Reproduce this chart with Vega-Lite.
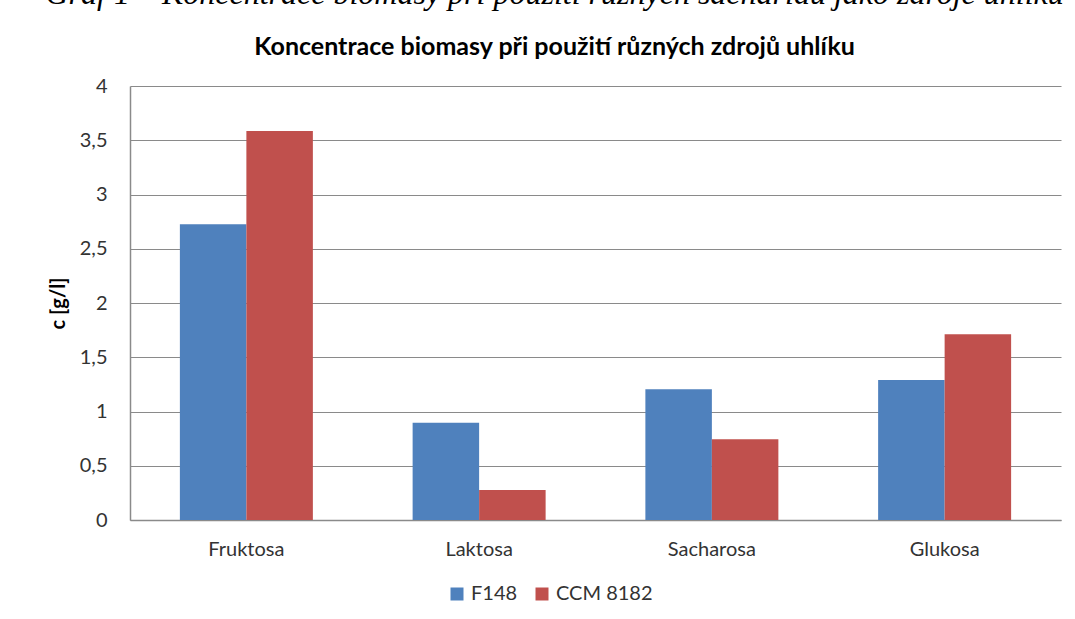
{
  "$schema": "https://vega.github.io/schema/vega-lite/v6.json",
  "autosize": {"type": "none"},
  "width": 931,
  "height": 434,
  "padding": {"left": 130, "top": 86, "right": 14, "bottom": 99},
  "background": "white",
  "title": {
    "text": "Graf 1 – Koncentrace biomasy při použití různých sacharidů jako zdroje uhlíku",
    "subtitle": "Koncentrace biomasy při použití různých zdrojů uhlíku",
    "anchor": "middle",
    "frame": "bounds",
    "offset": 15,
    "font": "Liberation Serif",
    "fontSize": 32,
    "fontStyle": "italic",
    "fontWeight": "normal",
    "color": "black",
    "subtitleFont": "Lato",
    "subtitleFontSize": 25,
    "subtitleFontWeight": "bold",
    "subtitleColor": "black",
    "subtitlePadding": 24
  },
  "data": {
    "values": [
      {"cukr": "Fruktosa", "kmen": "F148", "c": 2.725},
      {"cukr": "Fruktosa", "kmen": "CCM 8182", "c": 3.585},
      {"cukr": "Laktosa", "kmen": "F148", "c": 0.897},
      {"cukr": "Laktosa", "kmen": "CCM 8182", "c": 0.276},
      {"cukr": "Sacharosa", "kmen": "F148", "c": 1.205},
      {"cukr": "Sacharosa", "kmen": "CCM 8182", "c": 0.744},
      {"cukr": "Glukosa", "kmen": "F148", "c": 1.29},
      {"cukr": "Glukosa", "kmen": "CCM 8182", "c": 1.711}
    ]
  },
  "mark": {"type": "bar"},
  "encoding": {
    "x": {
      "field": "cukr",
      "type": "nominal",
      "sort": ["Fruktosa", "Laktosa", "Sacharosa", "Glukosa"],
      "scale": {"paddingInner": 0.4286, "paddingOuter": 0.2143},
      "axis": {
        "title": null,
        "labelAngle": 0,
        "ticks": false,
        "domainColor": "#8a8a8a",
        "domainWidth": 1.5,
        "labelFont": "Lato",
        "labelFontSize": 20,
        "labelColor": "#333333",
        "labelPadding": 19
      }
    },
    "xOffset": {
      "field": "kmen",
      "type": "nominal",
      "sort": ["F148", "CCM 8182"],
      "scale": {"paddingInner": 0, "paddingOuter": 0}
    },
    "y": {
      "field": "c",
      "type": "quantitative",
      "scale": {"domain": [0, 4], "nice": false},
      "axis": {
        "title": "c [g/l]",
        "values": [0, 0.5, 1, 1.5, 2, 2.5, 3, 3.5, 4],
        "labelExpr": "replace(toString(datum.value), '.', ',')",
        "ticks": false,
        "grid": true,
        "gridColor": "#8a8a8a",
        "gridWidth": 1.2,
        "domainColor": "#8a8a8a",
        "domainWidth": 1.5,
        "labelFont": "Lato",
        "labelFontSize": 20,
        "labelColor": "#333333",
        "labelPadding": 23,
        "titleFont": "Lato",
        "titleFontSize": 20,
        "titleFontWeight": "bold",
        "titleColor": "black",
        "titlePadding": 11
      }
    },
    "color": {
      "field": "kmen",
      "type": "nominal",
      "sort": ["F148", "CCM 8182"],
      "scale": {"domain": ["F148", "CCM 8182"], "range": ["#4F81BD", "#C0504D"]},
      "legend": {
        "title": null,
        "orient": "none",
        "legendX": 317,
        "legendY": 498,
        "padding": 0,
        "direction": "horizontal",
        "symbolType": "square",
        "symbolSize": 169,
        "symbolStrokeWidth": 0,
        "symbolOffset": 0,
        "labelFont": "Lato",
        "labelFontSize": 20,
        "labelOffset": 4,
        "labelColor": "#333333",
        "columnPadding": 14
      }
    }
  },
  "config": {
    "view": {"stroke": null},
    "axis": {"gridCap": "butt"}
  }
}
